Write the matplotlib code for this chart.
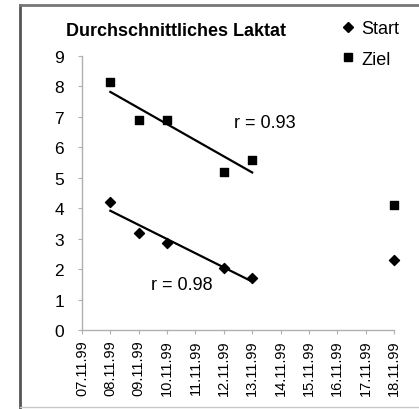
import matplotlib
matplotlib.use("Agg")
import matplotlib.pyplot as plt
import matplotlib.dates as mdates
import numpy as np
import datetime as dt
from matplotlib.lines import Line2D

plt.rcParams['font.family'] = ['Liberation Sans', 'DejaVu Sans']

dates = ["08.11.99", "09.11.99", "10.11.99", "12.11.99", "13.11.99", "18.11.99"]
start_vals = [4.2, 3.2, 2.85, 2.05, 1.7, 2.3]
ziel_vals = [8.15, 6.9, 6.9, 5.2, 5.6, 4.1]
n_fit = 5
r_labels = ["r = 0.98", "r = 0.93"]
title = "Durchschnittliches Laktat"

xd = [dt.datetime.strptime(d, "%d.%m.%y") for d in dates]
xn = mdates.date2num(xd)

fig = plt.figure(figsize=(4.19, 4.10), dpi=100)
ax = fig.add_axes([82/419, 1-331/410, (394-82)/419, (331-57)/410])

ax.scatter(xn, start_vals, marker='D', s=26, color='black', zorder=3, clip_on=False)
ax.scatter(xn, ziel_vals, marker='s', s=38, color='black', zorder=3, clip_on=False)

for vals in (start_vals, ziel_vals):
    p = np.polyfit(xn[:n_fit] - xn[0], vals[:n_fit], 1)
    xs = np.array([xn[0], xn[n_fit-1]])
    ax.plot(xs, np.polyval(p, xs - xn[0]), color='black', lw=1.6, zorder=2)

ax.text(xn[0] + 1.43, 1.5, r_labels[0], fontsize=13, ha='left', va='center')
ax.text(xn[0] + 4.36, 6.8, r_labels[1], fontsize=13, ha='left', va='center')

x0 = mdates.date2num(dt.datetime(1999, 11, 7))
x1 = mdates.date2num(dt.datetime(1999, 11, 18))
ax.set_xlim(x0, x1)
ax.set_ylim(0, 9)
ax.set_xticks(np.arange(x0, x1 + 0.5, 1))
ax.xaxis.set_major_formatter(mdates.DateFormatter("%d.%m.%y"))
ax.set_yticks(range(0, 10))
for lab in ax.get_xticklabels():
    lab.set_rotation(90)
ax.tick_params(axis='x', labelsize=10.5, direction='out', length=3, color='#b0b0b0', pad=4)
ax.tick_params(axis='y', labelsize=12.5, direction='out', length=3, color='#b0b0b0', pad=10)
for s in ('top', 'right'):
    ax.spines[s].set_visible(False)
for s in ('left', 'bottom'):
    ax.spines[s].set_color('#b0b0b0')
    ax.spines[s].set_linewidth(1.0)
ax.patch.set_visible(False)

fig.text(176/419, 1-32/410, title, fontsize=13, fontweight='bold', ha='center', va='center')

handles = [Line2D([], [], marker='D', ls='none', color='black', markersize=5.5),
           Line2D([], [], marker='s', ls='none', color='black', markersize=6)]
fig.legend(handles, ["Start", "Ziel"], loc='upper left', bbox_to_anchor=(343/419, 1-21/410),
           frameon=False, fontsize=13, handlelength=0.6, handletextpad=0.4,
           labelspacing=0.75, borderpad=0, borderaxespad=0)

# outer frame
fig.add_artist(Line2D([20/419, 20/419], [0, 1-5.5/410], transform=fig.transFigure, color='#555555', lw=2))
fig.add_artist(Line2D([20/419, 1], [1-5.5/410, 1-5.5/410], transform=fig.transFigure, color='#777777', lw=2))
fig.add_artist(Line2D([20/419, 1], [1-408/410, 1-408/410], transform=fig.transFigure, color='#c8c8c8', lw=1))

fig.savefig("out.png", dpi=100)
